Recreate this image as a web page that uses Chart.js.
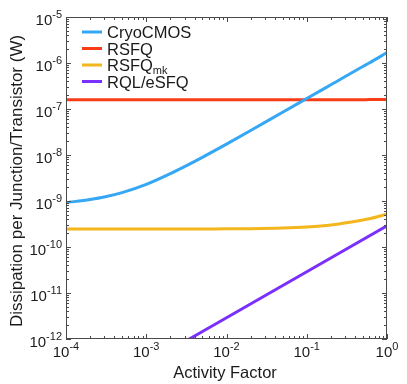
<!DOCTYPE html>
<html>
<head>
<meta charset="utf-8">
<script src="https://cdn.jsdelivr.net/npm/chart.js@4/dist/chart.umd.min.js"></script>
<style>
  body { margin: 0; background: #fff; }
  #wrap { width: 407px; height: 384px; position: relative; }
</style>
</head>
<body>
<div id="wrap"><canvas id="grafica"></canvas></div>
<script>
// activity factor (x) and dissipation values (W)
const actividad = [1e-4, 2e-4, 3e-4, 5e-4, 1e-3, 2e-3, 3e-3, 5e-3, 1e-2, 2e-2, 5e-2, 0.1, 0.2, 0.5, 0.6, 1];
const cryoCMOS = [9.2e-10, 1.08e-9, 1.22e-9, 1.52e-9, 2.3e-9, 3.95e-9, 5.6e-9, 8.9e-9, 1.72e-8, 3.4e-8, 8.5e-8, 1.69e-7, 3.37e-7, 8.4e-7, 1.0e-6, 1.68e-6];
const rsfq     = [1.58e-7, 1.58e-7, 1.58e-7, 1.58e-7, 1.58e-7, 1.58e-7, 1.58e-7, 1.58e-7, 1.58e-7, 1.58e-7, 1.58e-7, 1.58e-7, 1.58e-7, 1.58e-7, 1.61e-7, 1.61e-7];
const rsfqMk   = [2.45e-10, 2.45e-10, 2.45e-10, 2.45e-10, 2.45e-10, 2.46e-10, 2.46e-10, 2.47e-10, 2.48e-10, 2.5e-10, 2.58e-10, 2.72e-10, 3.0e-10, 3.85e-10, 4.1e-10, 5.2e-10];
const rqlX     = [3e-3, 1e-2, 0.1, 1];
const rql      = [8.7e-13, 2.9e-12, 2.9e-11, 2.9e-10];

const xTicks = [-4, -3, -2, -1, 0];
const yTicks = [-12, -11, -10, -9, -8, -7, -6, -5];

const series = [
  { nombre: 'CryoCMOS', sub: '', color: '#35a7f4', x: actividad, y: cryoCMOS },
  { nombre: 'RSFQ', sub: '', color: '#fb3c17', x: actividad, y: rsfq },
  { nombre: 'RSFQ', sub: 'mk', color: '#f4b61d', x: actividad, y: rsfqMk },
  { nombre: 'RQL/eSFQ', sub: '', color: '#7a2ffc', x: rqlX, y: rql }
];

const FONT = '"Liberation Sans", Arial, sans-serif';

// dibuja "10^exp"
function potencia(ctx, exp, x, y, align) {
  ctx.save();
  ctx.font = '15px ' + FONT;
  const wb = ctx.measureText('10').width;
  ctx.font = '11px ' + FONT;
  const we = ctx.measureText(String(exp)).width;
  const x0 = align === 'right' ? x - wb - we : x - (wb + we) / 2;
  ctx.textAlign = 'left';
  ctx.textBaseline = 'alphabetic';
  ctx.font = '15px ' + FONT;
  ctx.fillText('10', x0, y);
  ctx.font = '11px ' + FONT;
  ctx.fillText(String(exp), x0 + wb, y - 7);
  ctx.restore();
}

const ejes = {
  id: 'ejes',
  afterDraw(chart) {
    const ctx = chart.ctx;
    const a = chart.chartArea;
    const sx = chart.scales.x, sy = chart.scales.y;
    ctx.save();
    ctx.strokeStyle = '#4a4a4a';
    ctx.fillStyle = '#1a1a1a';
    ctx.lineWidth = 1;
    ctx.strokeRect(a.left + 0.5, a.top + 0.5, a.right - a.left - 1, a.bottom - a.top - 1);

    // marcas hacia dentro en los cuatro lados
    ctx.beginPath();
    for (let e = -4; e <= 0; e++) {
      for (let m = 1; m <= 9; m++) {
        if (e === 0 && m > 1) break;
        const px = Math.round(sx.getPixelForValue(m * Math.pow(10, e))) + 0.5;
        const len = m === 1 ? 5 : 3;
        ctx.moveTo(px, a.bottom); ctx.lineTo(px, a.bottom - len);
        ctx.moveTo(px, a.top); ctx.lineTo(px, a.top + len);
      }
    }
    for (let e = -12; e <= -5; e++) {
      for (let m = 1; m <= 9; m++) {
        if (e === -5 && m > 1) break;
        const py = Math.round(sy.getPixelForValue(m * Math.pow(10, e))) + 0.5;
        const len = m === 1 ? 5 : 3;
        ctx.moveTo(a.left, py); ctx.lineTo(a.left + len, py);
        ctx.moveTo(a.right, py); ctx.lineTo(a.right - len, py);
      }
    }
    ctx.stroke();

    xTicks.forEach(e => {
      potencia(ctx, e, sx.getPixelForValue(Math.pow(10, e)), a.bottom + 18, 'center');
    });
    yTicks.forEach(e => {
      potencia(ctx, e, a.left - 4, sy.getPixelForValue(Math.pow(10, e)) + 7.5, 'right');
    });

    // titulos de ejes
    ctx.textAlign = 'center';
    ctx.textBaseline = 'alphabetic';
    ctx.font = '16.5px ' + FONT;
    ctx.fillText('Activity Factor', 225, 378);
    ctx.save();
    ctx.font = '17px ' + FONT;
    ctx.translate(22, 181);
    ctx.rotate(-Math.PI / 2);
    ctx.fillText('Dissipation per Junction/Transistor (W)', 0, 0);
    ctx.restore();

    // leyenda
    series.forEach((s, i) => {
      const y = 32 + i * 16.5;
      ctx.strokeStyle = s.color;
      ctx.lineWidth = 3;
      ctx.beginPath();
      ctx.moveTo(82, y); ctx.lineTo(102, y);
      ctx.stroke();
      ctx.fillStyle = '#1a1a1a';
      ctx.textAlign = 'left';
      ctx.font = '16.5px ' + FONT;
      ctx.fillText(s.nombre, 107, y + 6);
      if (s.sub) {
        const w = ctx.measureText(s.nombre).width;
        ctx.font = '11px ' + FONT;
        ctx.fillText(s.sub, 107 + w, y + 9);
      }
    });
    ctx.restore();
  }
};

new Chart(document.getElementById('grafica'), {
  type: 'line',
  data: {
    datasets: series.map(s => ({
      label: s.nombre + s.sub,
      data: s.x.map((v, i) => ({ x: v, y: s.y[i] })),
      borderColor: s.color,
      borderWidth: 3,
      pointRadius: 0,
      cubicInterpolationMode: 'monotone',
      fill: false
    }))
  },
  options: {
    responsive: true,
    maintainAspectRatio: false,
    animation: false,
    layout: { padding: { left: 66, right: 20, top: 17, bottom: 45 } },
    plugins: { legend: { display: false }, tooltip: { enabled: false } },
    scales: {
      x: { type: 'logarithmic', min: 1e-4, max: 1, display: false },
      y: { type: 'logarithmic', min: 1e-12, max: 1e-5, display: false }
    }
  },
  plugins: [ejes]
});
</script>
</body>
</html>
